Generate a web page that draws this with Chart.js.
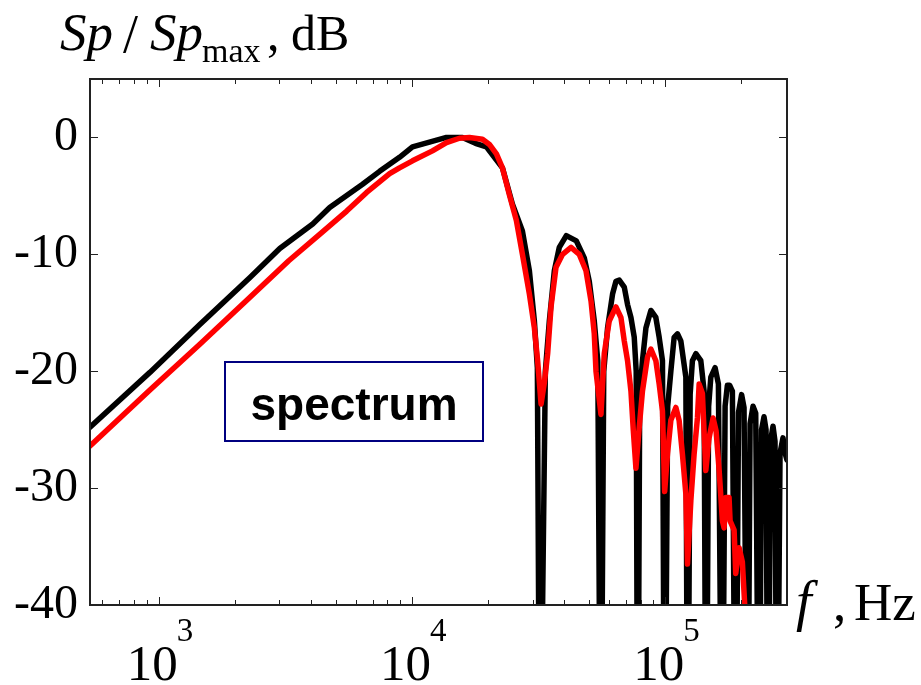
<!DOCTYPE html>
<html>
<head>
<meta charset="utf-8">
<script src="https://cdn.jsdelivr.net/npm/chart.js@4.4.1/dist/chart.umd.min.js"></script>
<style>
  html, body { margin: 0; padding: 0; background: #fff; }
</style>
</head>
<body>
<canvas id="spectrum_chart" width="921" height="685"></canvas>
<script>
// black curve (frequency in Hz, level in dB)
const blackFreq = [536, 924, 1455, 2290, 3010, 4060, 4740, 6390, 7460, 8940, 10060, 11740, 13700, 15850,
  17830, 19700, 22790, 24950, 27330, 29120, 30470, 31310, 32030, 33670, 34910, 36530, 38220, 40740,
  44620, 47970, 50200, 52530, 54230, 55720, 57260, 59280, 62030, 63980, 65920, 68990, 71090, 73320,
  75550, 76910, 77980, 79400, 81420, 84010, 87890, 91950, 94780, 97650, 99630, 102400, 105400, 108600,
  111900, 115400, 120800, 122800, 125600, 128200, 132300, 138400, 142600, 145200, 148600, 151600,
  157600, 162400, 168000, 172600, 176200, 179800, 184400, 189800, 195000, 200500, 205000, 211700,
  216600, 222500, 228000, 235000, 240400, 245900, 250400, 255000, 260800, 266800, 271700, 276700,
  284400, 292200, 297600, 303000];
const blackDb = [-24.8, -20.1, -16.0, -12.0, -9.5, -7.4, -6.0, -4.0, -2.9, -1.7, -0.8, -0.4, 0, 0,
  -0.5, -0.8, -2.6, -5.7, -8.0, -11.4, -15.7, -19.7, -60, -20, -15.7, -11.4, -9.4, -8.4,
  -8.85, -10.3, -12.3, -15.7, -19.1, -60, -20, -16.3, -13.4, -12.3, -12.2, -12.8, -14.3, -15.4,
  -17.1, -20, -60, -22, -19.1, -16.3, -14.8, -15.4, -17.1, -19.1, -60, -23, -20, -17.1,
  -16.8, -17.4, -20.5, -60, -22, -19.1, -18.5, -19.1, -21.7, -60, -23, -20.5,
  -19.7, -21.1, -60, -23, -21.2, -21.2, -21.7, -60, -23.5, -22, -23.1, -60,
  -24.5, -23, -23.6, -60, -25, -23.9, -25, -60, -26, -24.7, -26, -60,
  -27, -25.7, -27, -27.6];

// red curve
const redFreq = [536, 924, 1455, 2290, 3265, 4325, 5530, 6630, 8170, 8940, 10060, 12060, 13700, 15420,
  16890, 19000, 20250, 21580, 22790, 24280, 25870, 27330, 29120, 30470, 31390, 32380, 33370, 34380,
  35450, 37100, 39380, 42520, 45840, 48720, 51000, 52530, 53350, 55830, 57530, 60190, 63980, 66930,
  68990, 71090, 73320, 74870, 76720, 79060, 81420, 85230, 87890, 91950, 94780, 97650, 99630, 102200,
  105400, 110300, 113600, 117100, 120800, 122600, 126400, 130200, 134200, 136300, 140400, 144800,
  149200, 154700, 159000, 163500, 168400, 171000, 173700, 178900, 180600, 187300, 190100, 196000,
  201900, 206900, 209800];
const redDb = [-26.4, -21.6, -17.7, -13.7, -10.55, -8.3, -6.3, -4.7, -3.1, -2.6, -2.0, -1.15, -0.45, -0.07,
  0, -0.15, -0.6, -1.4, -2.6, -4.9, -7.1, -10.0, -13.4, -16.3, -19.1, -22.8, -21, -18.5,
  -14.5, -11.1, -10.0, -9.4, -10.0, -11.4, -14.0, -16.8, -20.0, -23.7, -18.5, -15.7, -14.5, -15.4,
  -17.4, -19.1, -21.7, -25, -28.3, -24.8, -21.7, -18.8, -18.1, -19.1, -21.1, -23.4, -30.3, -27.1,
  -24.2, -23.1, -24.2, -27.1, -30.5, -36.5, -31.1, -27.1, -24.0, -21.1, -21.9, -28.5,
  -25.7, -24.0, -25.1, -28.5, -32.8, -33.4, -30.8, -30.8, -32.8, -33.6, -37.3, -35.1,
  -36.3, -40.5, -42];

const xMajorTicks = [1e3, 1e4, 1e5];
const xTickExponents = ['3', '4', '5'];
const yTicks = [0, -10, -20, -30, -40];
const boxLabel = 'spectrum';

const SERIF = '"Liberation Serif", "Times New Roman", serif';
const SANS = '"Liberation Sans", Arial, sans-serif';

const framePlugin = {
    id: 'frame',
    afterDraw(chart) {
        const ctx = chart.ctx;
        const a = chart.chartArea;
        const xs = chart.scales.x;
        const ys = chart.scales.y;
        ctx.save();
        ctx.strokeStyle = '#222';
        ctx.lineWidth = 2;
        ctx.strokeRect(a.left, a.top, a.right - a.left, a.bottom - a.top);

        // minor + major ticks on the log axis, top and bottom, pointing inwards
        ctx.lineWidth = 1;
        for (let e = 2; e <= 5; e++) {
            for (let m = 1; m <= 9; m++) {
                const v = m * Math.pow(10, e);
                if (v < xs.min || v > xs.max) continue;
                const px = Math.round(xs.getPixelForValue(v)) + 0.5;
                const len = m === 1 ? 8 : 5;
                ctx.beginPath();
                ctx.moveTo(px, a.bottom);
                ctx.lineTo(px, a.bottom - len);
                ctx.moveTo(px, a.top);
                ctx.lineTo(px, a.top + len);
                ctx.stroke();
            }
        }
        yTicks.forEach(v => {
            const py = Math.round(ys.getPixelForValue(v)) + 0.5;
            ctx.beginPath();
            ctx.moveTo(a.left, py);
            ctx.lineTo(a.left + 8, py);
            ctx.moveTo(a.right, py);
            ctx.lineTo(a.right - 8, py);
            ctx.stroke();
        });

        // x tick labels 10^n
        ctx.fillStyle = '#000';
        ctx.textBaseline = 'alphabetic';
        ctx.textAlign = 'left';
        xMajorTicks.forEach((v, i) => {
            const px = xs.getPixelForValue(v);
            ctx.font = '51px ' + SERIF;
            const w10 = ctx.measureText('10').width;
            ctx.font = '33px ' + SERIF;
            const wExp = ctx.measureText(xTickExponents[i]).width;
            const x0 = px - (w10 + wExp) / 2 + 2;
            ctx.font = '51px ' + SERIF;
            ctx.fillText('10', x0, 680);
            ctx.font = '33px ' + SERIF;
            ctx.fillText(xTickExponents[i], x0 + w10 - 1, 641);
        });

        // y axis title: Sp / Sp_max , dB
        ctx.font = 'italic 53px ' + SERIF;
        ctx.fillText('Sp', 60, 50);
        ctx.font = '54px ' + SERIF;
        ctx.fillText('/', 123, 52);
        ctx.font = 'italic 53px ' + SERIF;
        ctx.fillText('Sp', 150, 50);
        ctx.font = '34px ' + SERIF;
        ctx.fillText('max', 202, 62);
        ctx.font = '50px ' + SERIF;
        ctx.fillText(',', 267, 50);
        ctx.fillText('dB', 291, 50);

        // x axis title: f , Hz
        ctx.font = 'italic 56px ' + SERIF;
        ctx.fillText('f', 796, 620);
        ctx.font = '53px ' + SERIF;
        ctx.fillText(',', 833, 620);
        ctx.fillText('Hz', 854, 620);

        // label box
        const bx = a.left + 135, by = a.top + 283, bw = 258, bh = 79;
        ctx.fillStyle = '#fff';
        ctx.fillRect(bx, by, bw, bh);
        ctx.strokeStyle = '#000080';
        ctx.lineWidth = 2;
        ctx.strokeRect(bx, by, bw, bh);
        ctx.fillStyle = '#000';
        ctx.font = 'bold 46px ' + SANS;
        ctx.textAlign = 'center';
        ctx.fillText(boxLabel, bx + bw / 2, by + 58);
        ctx.restore();
    }
};

const ctx = document.getElementById('spectrum_chart').getContext('2d');
const myChart = new Chart(ctx, {
    type: 'line',
    data: {
        datasets: [{
            label: 'red',
            data: redFreq.map((f, i) => ({ x: f, y: redDb[i] })),
            borderColor: '#ff0000',
            borderWidth: 5.5
        }, {
            label: 'black',
            data: blackFreq.map((f, i) => ({ x: f, y: blackDb[i] })),
            borderColor: '#000000',
            borderWidth: 5.5
        }]
    },
    options: {
        responsive: false,
        animation: false,
        devicePixelRatio: 1,
        layout: { padding: { top: 79, right: 134, bottom: 0, left: 0 } },
        elements: {
            point: { radius: 0 },
            line: { tension: 0, borderJoinStyle: 'round', borderCapStyle: 'round' }
        },
        plugins: { legend: { display: false }, tooltip: { enabled: false } },
        scales: {
            x: {
                type: 'logarithmic',
                min: 536,
                max: 303000,
                grid: { display: false, drawTicks: false },
                border: { display: false },
                ticks: { display: false },
                afterFit: s => { s.height = 80; }
            },
            y: {
                type: 'linear',
                min: -40,
                max: 5,
                grid: { display: false, drawTicks: false },
                border: { display: false },
                afterBuildTicks: s => { s.ticks = yTicks.map(v => ({ value: v })); },
                ticks: {
                    color: '#000',
                    padding: 12,
                    font: { family: SERIF, size: 48 },
                    callback: v => String(v)
                },
                afterFit: s => { s.width = 90; }
            }
        }
    },
    plugins: [framePlugin]
});
</script>
</body>
</html>
